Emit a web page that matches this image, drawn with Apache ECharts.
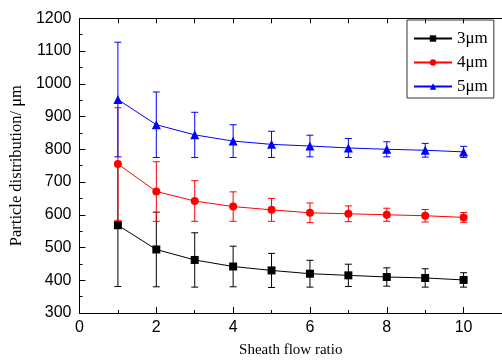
<!DOCTYPE html>
<html><head><meta charset="utf-8">
<script src="https://cdn.jsdelivr.net/npm/echarts@6/dist/echarts.min.js"></script>
<style>html,body{margin:0;padding:0;background:#fff}#c{width:502px;height:363px}</style>
</head><body><div id="c"></div>
<script>
var ratios = [1, 2, 3, 4, 5, 6, 7, 8, 9, 10];
var mean3 = [568, 494, 462, 442, 430, 420, 415, 410, 407, 401];
var err3  = [187, 114, 83, 62, 52, 41, 34, 28, 28, 22];
var mean4 = [755, 671, 642, 625, 615, 606, 603, 600, 597, 592];
var err4  = [172, 91, 62, 45, 35, 30, 24, 20, 19, 15];
var mean5 = [952, 875, 844, 825, 815, 810, 804, 800, 797, 792];
var err5  = [175, 100, 69, 50, 40, 33, 29, 23, 21, 17];
var seriesNames = ['3\u03bcm', '4\u03bcm', '5\u03bcm'];
var colors = ['#000000', '#ff0000', '#0000ff'];
var symbols = ['rect', 'circle', 'triangle'];
var symbolSizes = [8, 8, 9];

function errData(means, errs) {
  return ratios.map(function (x, i) { return [x, means[i] - errs[i], means[i] + errs[i]]; });
}
function errSeries(means, errs, color) {
  return {
    type: 'custom', silent: true, z: 1,
    data: errData(means, errs),
    encode: { x: 0, y: [1, 2] },
    renderItem: function (params, api) {
      var lo = api.coord([api.value(0), api.value(1)]);
      var hi = api.coord([api.value(0), api.value(2)]);
      var w = 3.5;
      var st = { stroke: color, lineWidth: 1 };
      return { type: 'group', children: [
        { type: 'line', shape: { x1: lo[0], y1: lo[1], x2: hi[0], y2: hi[1] }, style: st },
        { type: 'line', shape: { x1: lo[0] - w, y1: lo[1], x2: lo[0] + w, y2: lo[1] }, style: st },
        { type: 'line', shape: { x1: hi[0] - w, y1: hi[1], x2: hi[0] + w, y2: hi[1] }, style: st }
      ]};
    }
  };
}
function lineSeries(k, means) {
  return {
    name: seriesNames[k], type: 'line', z: 3,
    data: ratios.map(function (x, i) { return [x, means[i]]; }),
    symbol: symbols[k], symbolSize: symbolSizes[k],
    itemStyle: { color: colors[k] },
    lineStyle: { color: colors[k], width: 1 }
  };
}
var serif = '"Liberation Serif", "Times New Roman", serif';
var sans = '"Liberation Sans", Arial, sans-serif';
var chart = echarts.init(document.getElementById('c'), null, { renderer: 'canvas' });
chart.setOption({
  animation: false,
  grid: { left: 77.5, right: -8.5, top: 18.3, bottom: 48 },
  legend: {
    orient: 'vertical', left: 407, top: 20,
    data: seriesNames,
    borderColor: '#333', borderWidth: 1, padding: [10, 6, 3, 6],
    itemWidth: 38, itemHeight: 8, itemGap: 7,
    textStyle: { fontFamily: serif, fontSize: 17, color: '#000' }
  },
  xAxis: [{
    type: 'value', min: 0, max: 11, interval: 2,
    name: 'Sheath flow ratio', nameLocation: 'middle', nameGap: 30,
    nameTextStyle: { fontFamily: serif, fontSize: 15, color: '#000' },
    axisLine: { lineStyle: { color: '#000', width: 1 } },
    axisTick: { inside: true, length: 6, lineStyle: { color: '#000' } },
    minorTick: { show: true, splitNumber: 2, length: 3, lineStyle: { color: '#000' } },
    axisLabel: { fontFamily: sans, fontSize: 16, color: '#000', margin: 7, showMaxLabel: false },
    splitLine: { show: false }
  }, {
    type: 'value', min: 0, max: 11, interval: 1, position: 'top',
    axisLine: { lineStyle: { color: '#000', width: 1 } },
    axisTick: { inside: true, length: 5, lineStyle: { color: '#000' } },
    axisLabel: { show: false }, splitLine: { show: false }
  }],
  yAxis: [{
    type: 'value', min: 300, max: 1200, interval: 100,
    name: 'Particle distribution/ \u03bcm', nameLocation: 'middle', nameGap: 39,
    nameTextStyle: { fontFamily: serif, fontSize: 16.5, color: '#000' },
    axisLine: { show: true, lineStyle: { color: '#000', width: 1 } },
    axisTick: { inside: true, length: 6, lineStyle: { color: '#000' } },
    minorTick: { show: true, splitNumber: 2, length: 3, lineStyle: { color: '#000' } },
    axisLabel: { fontFamily: sans, fontSize: 16, color: '#000', margin: 8, formatter: function (v) { return String(v); } },
    splitLine: { show: false }
  }],
  series: [
    errSeries(mean3, err3, colors[0]),
    errSeries(mean4, err4, colors[1]),
    errSeries(mean5, err5, colors[2]),
    lineSeries(0, mean3),
    lineSeries(1, mean4),
    lineSeries(2, mean5)
  ]
});
</script>
</body></html>
